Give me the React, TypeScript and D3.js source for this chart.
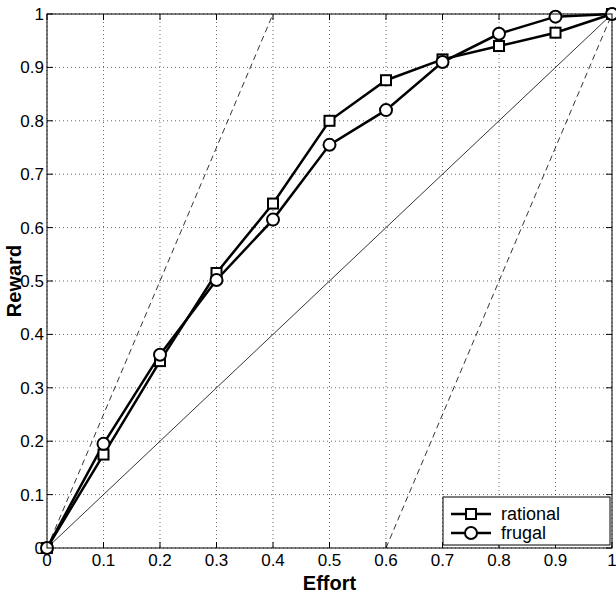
import * as d3 from 'd3';

const ticks = [0, 0.1, 0.2, 0.3, 0.4, 0.5, 0.6, 0.7, 0.8, 0.9, 1];
const effort = [0, 0.1, 0.2, 0.3, 0.4, 0.5, 0.6, 0.7, 0.8, 0.9, 1];
const rational = [0, 0.175, 0.35, 0.515, 0.645, 0.8, 0.876, 0.915, 0.94, 0.965, 1];
const frugal = [0, 0.195, 0.362, 0.502, 0.615, 0.755, 0.82, 0.91, 0.963, 0.995, 1];
const guides = [
  { pts: [[0, 0], [0.4, 1]], dash: '6,4' },
  { pts: [[0.6, 0], [1, 1]], dash: '6,4' },
  { pts: [[0, 0], [1, 1]], dash: '' },
];

export default function App() {
  const W = 616, H = 605;
  const L = 47, R = 612, T = 14, B = 548;
  const x = d3.scaleLinear([0, 1], [L, R]);
  const y = d3.scaleLinear([0, 1], [B, T]);
  const line = d3.line<number>().x((_, i) => x(effort[i])).y((d) => y(d));
  const font = "'Liberation Sans', Arial, sans-serif";
  return (
    <svg width={W} height={H} style={{ position: 'absolute', left: 0, top: 0 }} fontFamily={font}>
      <rect width={W} height={H} fill="#fff" />
      <defs>
        <clipPath id="c"><rect x={L} y={T} width={R - L} height={B - T} /></clipPath>
      </defs>
      {ticks.map((t) => (
        <g key={t}>
          <line x1={x(t)} x2={x(t)} y1={T} y2={B} stroke="#000" strokeWidth={0.6} strokeDasharray="1,3" />
          <line x1={L} x2={R} y1={y(t)} y2={y(t)} stroke="#000" strokeWidth={0.6} strokeDasharray="1,3" />
          <line x1={x(t)} x2={x(t)} y1={B} y2={B - 6} stroke="#000" />
          <line x1={x(t)} x2={x(t)} y1={T} y2={T + 6} stroke="#000" />
          <line x1={L} x2={L + 6} y1={y(t)} y2={y(t)} stroke="#000" />
          <line x1={R} x2={R - 6} y1={y(t)} y2={y(t)} stroke="#000" />
          <text x={x(t)} y={B + 18} textAnchor="middle" fontSize={17}>{String(t)}</text>
          <text x={L - 3} y={y(t) + 6} textAnchor="end" fontSize={17}>{String(t)}</text>
        </g>
      ))}
      <g clipPath="url(#c)">
        {guides.map((g, i) => (
          <line key={i} x1={x(g.pts[0][0])} y1={y(g.pts[0][1])} x2={x(g.pts[1][0])} y2={y(g.pts[1][1])}
            stroke="#000" strokeWidth={0.8} strokeDasharray={g.dash || undefined} />
        ))}
      </g>
      <path d={line(rational)!} fill="none" stroke="#000" strokeWidth={2.5} />
      <path d={line(frugal)!} fill="none" stroke="#000" strokeWidth={2.5} />
      {rational.map((v, i) => (
        <rect key={'r' + i} x={x(effort[i]) - 5} y={y(v) - 5} width={10} height={10} fill="#fff" stroke="#000" strokeWidth={2} />
      ))}
      {frugal.map((v, i) => (
        <circle key={'f' + i} cx={x(effort[i])} cy={y(v)} r={6} fill="#fff" stroke="#000" strokeWidth={2} />
      ))}
      <rect x={L} y={T} width={R - L} height={B - T} fill="none" stroke="#000" strokeWidth={1} />
      <g>
        <rect x={443} y={497} width={167} height={48} fill="#fff" stroke="#000" />
        <line x1={451} x2={491} y1={514} y2={514} stroke="#000" strokeWidth={2.5} />
        <rect x={466} y={509} width={10} height={10} fill="#fff" stroke="#000" strokeWidth={2} />
        <text x={501} y={520} fontSize={18}>rational</text>
        <line x1={451} x2={491} y1={533} y2={533} stroke="#000" strokeWidth={2.5} />
        <circle cx={471} cy={533} r={6} fill="#fff" stroke="#000" strokeWidth={2} />
        <text x={501} y={539} fontSize={18}>frugal</text>
      </g>
      <text x={(L + R) / 2} y={590} textAnchor="middle" fontSize={20} fontWeight="bold">Effort</text>
      <text transform={`translate(21,${(T + B) / 2}) rotate(-90)`} textAnchor="middle" fontSize={20} fontWeight="bold">Reward</text>
    </svg>
  );
}
